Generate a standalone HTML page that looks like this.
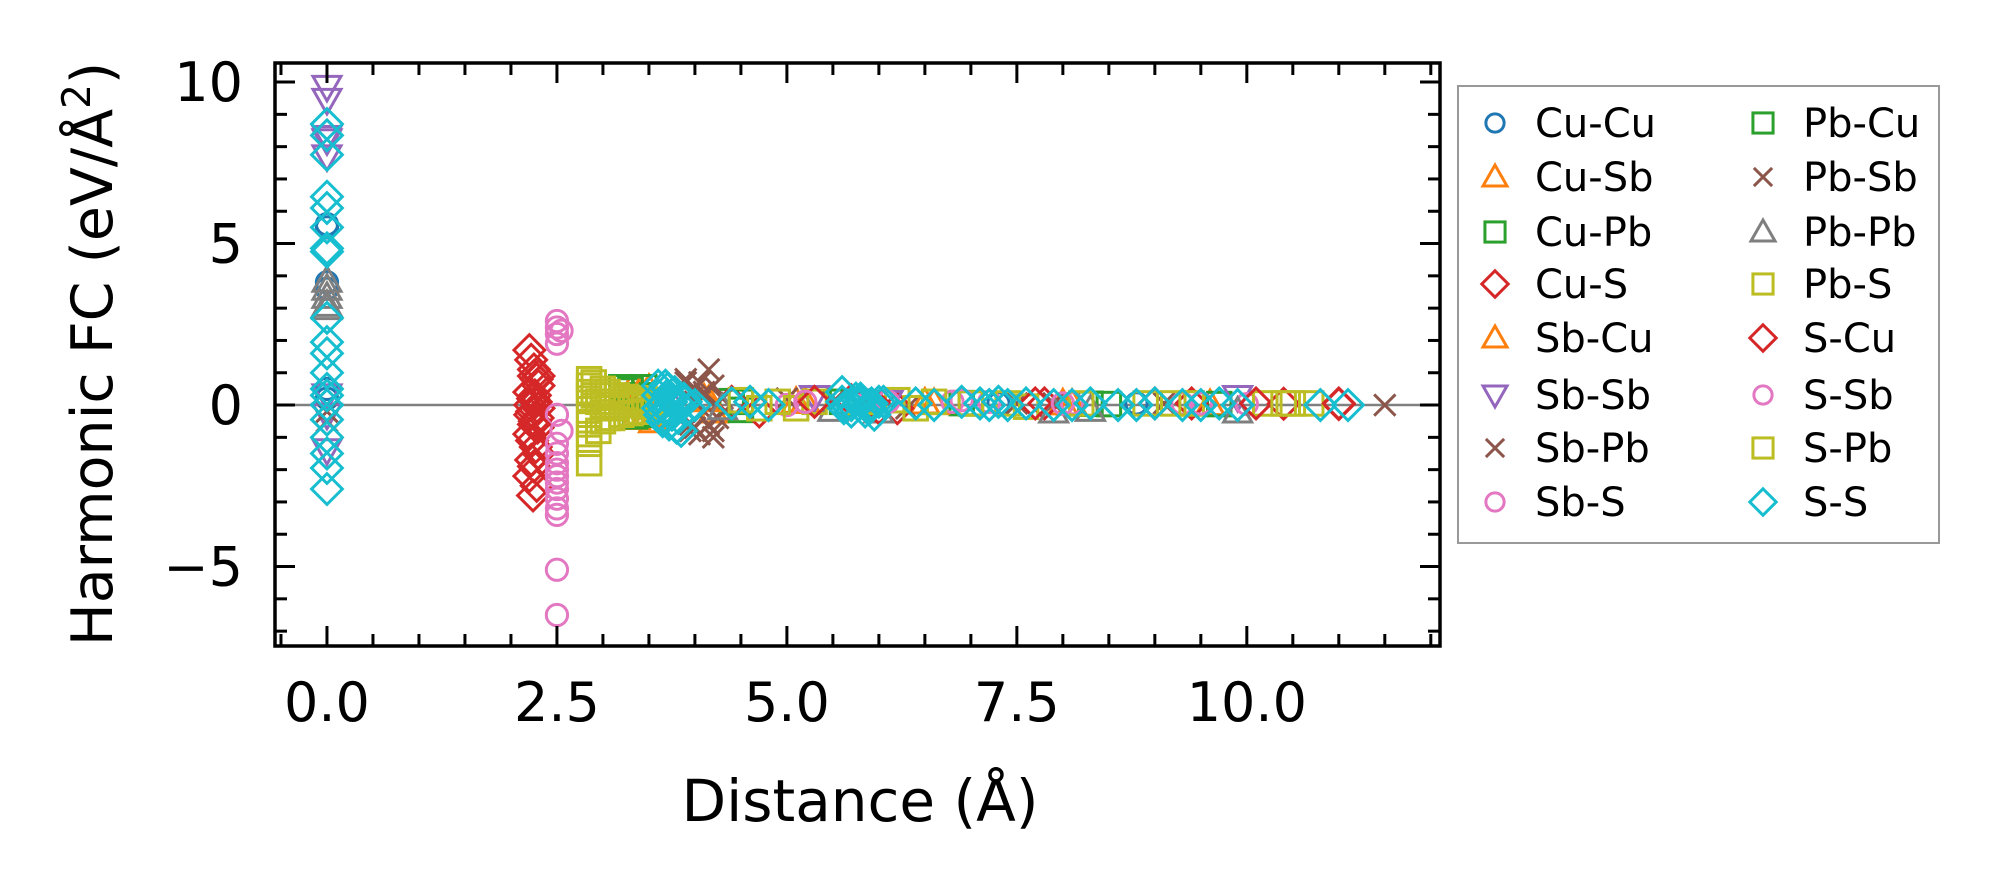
<!DOCTYPE html>
<html><head><meta charset="utf-8">
<style>
html,body{margin:0;padding:0;background:#fff;}
svg{display:block;font-family:"DejaVu Sans","Liberation Sans",sans-serif;}
</style></head>
<body>
<svg id="chart" width="1999" height="888" viewBox="0 0 1999 888" xmlns="http://www.w3.org/2000/svg">
<rect x="0" y="0" width="1999" height="888" fill="#fff"/>
<g id="plot"></g>
<g id="axes"></g>
<g id="legend"></g>
</svg>
<script>
// ---- data ----
const seriesNames = ["Cu-Cu","Cu-Sb","Cu-Pb","Cu-S","Sb-Cu","Sb-Sb","Sb-Pb","Sb-S","Pb-Cu","Pb-Sb","Pb-Pb","Pb-S","S-Cu","S-Sb","S-Pb","S-S"];
const seriesColors = ["#1f77b4","#ff7f0e","#2ca02c","#d62728","#ff7f0e","#9467bd","#8c564b","#e377c2","#2ca02c","#8c564b","#7f7f7f","#bcbd22","#d62728","#e377c2","#bcbd22","#17becf"];
const seriesMarkers = ["circle","tri-up","square","diamond","tri-up","tri-down","x","circle","square","x","tri-up","square","diamond","circle","square","diamond"];
const xTicks = [0, 2.5, 5, 7.5, 10];
const xTickLabels = ["0.0","2.5","5.0","7.5","10.0"];
const yTicks = [-5, 0, 5, 10];
const yTickLabels = ["\u22125","0","5","10"];

const cucuX = [0,0,0,0,0,0,5.9,7.3,8.8];
const cucuY = [3.8,3.6,5.5,5.6,0.5,0.2,0.1,0.05,0.05];
const cusbX = [3.3,3.35,3.4,3.45,3.5,3.55,4.1,4.2,5.1,6.5,8.0,9.6];
const cusbY = [0.45,-0.4,0.3,-0.35,0.5,-0.5,0.2,-0.2,0.1,0.08,0.05,0.03];
const cupbX = [3.2,3.3,3.35,3.4,3.45,4.4,4.5,5.6,6.9,8.3,9.7];
const cupbY = [0.55,0.45,-0.35,0.3,0.55,0.12,-0.15,0.1,0.06,0.04,0.03];
const cusX = [2.2,2.22,2.25,2.28,2.3,2.2,2.24,2.27,2.3,2.21,2.26,2.29,2.2,2.23,2.27,2.3,2.22,2.25,2.2,2.28,2.24,2.21,2.26,2.23,2.29,2.25,4.4,4.7,5.7,6.2,7.8,9.4,10.4,11.0];
const cusY = [1.7,1.4,1.1,0.8,0.6,0.4,0.2,0.1,-0.1,-0.3,-0.5,-0.7,-0.9,-1.1,-1.3,-1.5,-1.7,-1.9,-2.2,-2.5,-2.8,0.0,0.3,-0.2,-0.4,0.9,0.1,-0.2,0.15,-0.1,0.05,0.05,0.04,0.03];
const sbcuX = [3.4,3.5,4.15,5.2,6.6,8.1];
const sbcuY = [0.4,-0.3,0.15,0.1,0.06,0.04];
const sbsbX = [0,0,0,0,0,0,0,0,3.9,5.3,6.1,9.9];
const sbsbY = [9.85,9.45,8.3,7.7,8.2,0.3,-0.3,-1.4,0.2,0.25,0.1,0.25];
const sbpbX = [0,0,3.9,3.95,4.0,4.05,4.1,4.15,4.2,4.25,3.85,4.0,4.1,4.2,4.05,4.15,3.95,5.0,6.3,7.9,9.1,11.5];
const sbpbY = [-0.2,-0.5,0.8,-0.6,0.5,-0.9,0.3,1.1,-0.8,-0.4,-0.3,0.1,-0.2,0.6,0.7,-0.6,-0.8,0.2,-0.1,0.05,0.05,0.0];
const sbsX = [2.5,2.5,2.5,2.5,2.5,2.5,2.5,2.5,2.5,2.5,2.5,2.5,2.5,2.5,2.5,2.5,2.5,5.0,5.9,6.8,7.2,8.1,9.3,10.0];
const sbsY = [2.6,2.4,2.2,1.9,-0.3,-1.2,-1.5,-1.8,-2.0,-2.2,-2.4,-2.6,-2.9,-3.2,-3.4,-5.1,-6.5,0.0,0.15,0.1,0.1,0.05,0.05,0.03];
const pbcuX = [3.3,3.4,4.5,5.8,7.0,8.5];
const pbcuY = [0.5,-0.3,0.1,0.08,0.05,0.03];
const pbsbX = [3.9,4.0,4.1,4.2,4.3,5.5,7.5];
const pbsbY = [0.7,-0.7,0.4,-1.0,0.2,0.1,0.05];
const pbpbX = [0,0,0,0,0,4.3,5.5,6.0,7.9,8.3,9.9];
const pbpbY = [3.85,3.6,3.35,3.1,3.0,-0.1,-0.15,-0.2,-0.2,-0.15,-0.2];
const pbsX = [2.85,2.85,2.85,2.85,2.85,2.85,2.85,2.85,2.85,2.9,2.95,3.0,3.0,3.05,3.1,3.15,3.2,3.25,3.3,3.35,3.4,3.45,3.5,3.55,3.6,2.95,3.0,3.1,3.2,3.3,3.4,3.5,3.05,3.15,3.25,3.35,3.45,4.5,4.7,4.9,5.1,5.3,6.2,6.4,6.6,7.0,7.6,8.2,8.9,9.4,10.2,10.5,10.7];
const pbsY = [0.8,0.6,0.4,0.2,-0.3,-0.6,-0.9,-1.2,-1.8,0.7,-0.8,0.5,-0.5,0.4,-0.4,0.3,-0.3,0.25,-0.25,0.2,-0.2,0.2,-0.2,0.15,-0.15,0.1,0.0,0.1,0.0,0.1,0.0,0.05,-0.1,-0.1,0.0,0.0,-0.05,0.15,-0.1,0.1,-0.1,0.1,0.15,-0.1,0.1,0.05,-0.05,0.05,0.05,0.05,0.05,0.05,0.05];
const scuX = [2.3,2.25,5.3,6.0,7.7,9.0,10.1,11.0];
const scuY = [0.9,-0.6,0.1,-0.1,0.05,0.05,0.05,0.05];
const ssbX = [2.55,2.55,5.2,6.1,6.9,8.0,9.5];
const ssbY = [2.3,-0.8,0.1,0.1,0.15,0.05,0.05];
const spbX = [2.9,3.05,3.2,3.4,5.8,7.4,9.2,10.4];
const spbY = [0.3,-0.4,0.2,-0.2,0.1,0.05,0.05,0.05];
const ssX = [0,0,0,0,0,0,0,0,0,0,0,0,0,0,0,0,0,0,0,0,
  3.6,3.65,3.7,3.75,3.8,3.6,3.7,3.8,3.65,3.75,3.7,3.85,3.9,3.6,3.62,3.68,3.72,3.78,3.82,3.88,3.64,3.74,3.84,3.94,4.0,
  4.4,4.6,4.8,5.6,5.7,5.8,5.9,6.0,5.65,5.95,5.75,5.85,5.6,5.7,5.8,5.9,6.05,5.62,5.78,5.92,
  6.4,6.6,6.9,7.1,7.2,7.3,7.4,7.6,7.9,8.1,8.3,8.6,8.8,9.0,9.3,9.5,9.7,9.9,10.8,11.1];
const ssY = [8.7,8.35,7.75,6.45,6.1,5.5,4.85,4.75,2.7,1.95,1.6,1.0,0.5,0.0,-0.45,-1.0,-1.5,-1.95,-2.6,0.3,
  0.6,-0.5,0.3,-0.3,0.1,-0.1,0.5,-0.7,0.0,0.2,-0.2,-0.8,0.1,0.3,-0.3,0.6,-0.6,0.4,-0.4,0.2,0.0,0.1,0.0,-0.1,0.0,
  0.05,0.1,0.0,0.4,-0.2,0.2,-0.1,0.1,0.0,-0.3,0.2,-0.2,0.1,0.0,0.1,0.0,0.1,-0.1,0.0,0.05,
  0.05,0.0,0.1,0.05,0.0,0.1,0.0,0.05,0.0,0.0,0.05,0.0,0.0,0.05,0.0,0.0,0.05,0.0,0.0,0.0];

const seriesX = [cucuX,cusbX,cupbX,cusX,sbcuX,sbsbX,sbpbX,sbsX,pbcuX,pbsbX,pbpbX,pbsX,scuX,ssbX,spbX,ssX];
const seriesY = [cucuY,cusbY,cupbY,cusY,sbcuY,sbsbY,sbpbY,sbsY,pbcuY,pbsbY,pbpbY,pbsY,scuY,ssbY,spbY,ssY];

// ---- axes geometry ----
const L=275, R=1440, T=63, B=646;
const xMin=-0.565, xMax=12.1, yMin=-7.46, yMax=10.59;
const xs = v => L + (v - xMin) / (xMax - xMin) * (R - L);
const ys = v => B - (v - yMin) / (yMax - yMin) * (B - T);
const NS="http://www.w3.org/2000/svg";
function mk(tag, attrs, parent){const e=document.createElementNS(NS,tag);for(const k in attrs)e.setAttribute(k,attrs[k]);parent.appendChild(e);return e;}

function marker(type, cx, cy, color, s, parent){
  let e;
  const sw = 3;
  if(type==="circle"){ e=mk("circle",{cx:cx,cy:cy,r:s*0.38,fill:"none",stroke:color,"stroke-width":sw},parent); }
  else if(type==="square"){ const h=s*0.42; e=mk("rect",{x:cx-h,y:cy-h,width:2*h,height:2*h,fill:"none",stroke:color,"stroke-width":sw},parent); }
  else if(type==="diamond"){ const h=s*0.55; e=mk("polygon",{points:`${cx},${cy-h} ${cx+h},${cy} ${cx},${cy+h} ${cx-h},${cy}`,fill:"none",stroke:color,"stroke-width":sw},parent); }
  else if(type==="tri-up"){ const h=s*0.5; e=mk("polygon",{points:`${cx},${cy-h} ${cx+h},${cy+h*0.75} ${cx-h},${cy+h*0.75}`,fill:"none",stroke:color,"stroke-width":sw},parent); }
  else if(type==="tri-down"){ const h=s*0.5; e=mk("polygon",{points:`${cx},${cy+h} ${cx+h},${cy-h*0.75} ${cx-h},${cy-h*0.75}`,fill:"none",stroke:color,"stroke-width":sw},parent); }
  else { const h=s*0.38; e=mk("path",{d:`M${cx-h},${cy-h}L${cx+h},${cy+h}M${cx-h},${cy+h}L${cx+h},${cy-h}`,fill:"none",stroke:color,"stroke-width":sw},parent); }
  return e;
}

const plot=document.getElementById("plot");
const axes=document.getElementById("axes");
const legend=document.getElementById("legend");

const zl = mk("line",{x1:L,x2:R,y1:ys(0),y2:ys(0),stroke:"#808080","stroke-width":2.5},plot);



for(let i=0;i<seriesNames.length;i++){
  const g=mk("g",{},plot);
  
  
  for(let j=0;j<seriesX[i].length;j++){
    const m=marker(seriesMarkers[i], xs(seriesX[i][j]), ys(seriesY[i][j]), seriesColors[i], 28, g);
    
    
  }
}

const fr = mk("rect",{x:L,y:T,width:R-L,height:B-T,fill:"none",stroke:"#000","stroke-width":3.5},axes);



for(let v=-0.5; v<=12.0001; v+=0.5){
  const isMajor = Math.abs(v/2.5 - Math.round(v/2.5))<1e-6;
  const len = isMajor?20:12;
  const x=xs(v);
  const t1=mk("line",{x1:x,x2:x,y1:B,y2:B-len,stroke:"#000","stroke-width":3},axes);
  
  
  const t2=mk("line",{x1:x,x2:x,y1:T,y2:T+len,stroke:"#000","stroke-width":3},axes);
  
  
}
for(let v=-7; v<=10.0001; v+=1){
  const isMajor = v%5===0;
  const len = isMajor?20:12;
  const y=ys(v);
  const t1=mk("line",{x1:L,x2:L+len,y1:y,y2:y,stroke:"#000","stroke-width":3},axes);
  
  
  const t2=mk("line",{x1:R,x2:R-len,y1:y,y2:y,stroke:"#000","stroke-width":3},axes);
  
  
}
xTicks.forEach((v,i)=>{
  const t=mk("text",{x:xs(v),y:721,"font-size":54,"text-anchor":"middle",fill:"#000"},axes);
  t.textContent=xTickLabels[i];
  
  
});
yTicks.forEach((v,i)=>{
  const t=mk("text",{x:243,y:ys(v)+19,"font-size":54,"text-anchor":"end",fill:"#000"},axes);
  t.textContent=yTickLabels[i];
  
  
});
const xl=mk("text",{x:860,y:821,"font-size":58,"text-anchor":"middle",fill:"#000"},axes);
xl.textContent="Distance (Å)";


const yl=mk("text",{x:0,y:0,"font-size":57,"text-anchor":"middle",fill:"#000",transform:"translate(92,354) rotate(-90) translate(0,20)"},axes);
yl.innerHTML='Harmonic FC (eV/Å<tspan dy="-22" font-size="39">2</tspan><tspan dy="22">)</tspan>';



// legend
const lb=mk("rect",{x:1458,y:86,width:481,height:457,fill:"#fff",stroke:"#999","stroke-width":2},legend);


const rowY=[123,177,232,284,338,395,448,502];
for(let i=0;i<seriesNames.length;i++){
  const col=Math.floor(i/8), row=i%8;
  const g=mk("g",{},legend);
  
  
  const mx = col===0?1495:1763;
  const tx = col===0?1535:1803;
  marker(seriesMarkers[i], mx, rowY[row], seriesColors[i], 24, g);
  const t=mk("text",{x:tx,y:rowY[row]+14,"font-size":40,fill:"#000"},g);
  t.textContent=seriesNames[i];
}
</script>
</body></html>
